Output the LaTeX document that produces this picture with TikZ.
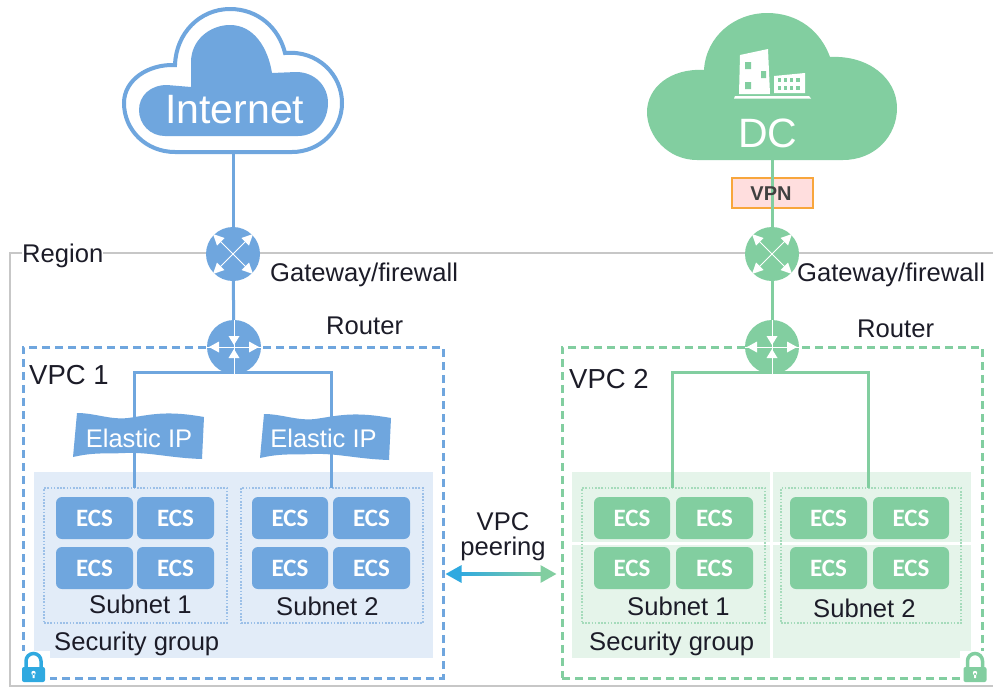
\documentclass[tikz,border=0pt]{standalone}
\usepackage{fontspec}
\setmainfont{Liberation Sans}
\newfontfamily\ecsfont{Carlito}
\usetikzlibrary{arrows.meta,shapes.geometric}
\pgfdeclarelayer{bg}\pgfdeclarelayer{conn}\pgfsetlayers{bg,conn,main}
\definecolor{cb}{HTML}{6FA6DE}
\definecolor{cg}{HTML}{82CEA0}
\definecolor{shb}{HTML}{E2ECF8}
\definecolor{shg}{HTML}{E5F4EA}
\definecolor{dotb}{HTML}{9CC0E8}
\definecolor{dotg}{HTML}{A5DBBB}
\definecolor{txt}{HTML}{1C1C28}
\definecolor{lockb}{HTML}{2FA9E0}
\definecolor{vpnline}{HTML}{F8A63C}
\tikzset{
  x=1pt,y=-1pt,
  lbl/.style={font=\fontsize{25.6}{25.6}\selectfont,text=txt,inner sep=0pt,anchor=base west},
  lblc/.style={lbl,anchor=base},
  big/.style={font=\fontsize{41}{41}\selectfont,text=white,inner sep=0pt,anchor=base west},
  eiptext/.style={font=\fontsize{25.5}{25.5}\selectfont,text=white,inner sep=0pt,anchor=base},
  vpcbox/.style={draw,line width=3pt,dash pattern=on 8pt off 5pt,inner sep=0pt},
  shadebox/.style={inner sep=0pt},
  subbox/.style={draw,line width=1.6pt,dash pattern=on 1.6pt off 1.6pt,inner sep=0pt,minimum height=135pt},
  ecsbox/.style={rounded corners=6pt,inner sep=0pt,minimum height=42pt,text=white,font=\ecsfont\bfseries\fontsize{25}{25}\selectfont},
  hub/.style={circle,minimum size=54pt,inner sep=0pt},
  conn/.style={line width=3pt},
  gwicon/.pic={
    \draw[white,line width=1pt] (-19,-19)--(19,19) (-19,19)--(19,-19);
    \fill[white] (-20,-20)--(-8.5,-16)--(-16,-8.5)--cycle (20,-20)--(8.5,-16)--(16,-8.5)--cycle
                 (-20,20)--(-8.5,16)--(-16,8.5)--cycle (20,20)--(8.5,16)--(16,8.5)--cycle;
  },
  rticon/.pic={
    \draw[white,line width=1pt] (-27,0)--(27,0) (0,-27)--(0,27);
    \fill[white] (-25,0)--(-15,-5.5)--(-15,5.5)--cycle (25,0)--(15,-5.5)--(15,5.5)--cycle
                 (0,-2)--(-5.5,-11)--(5.5,-11)--cycle (0,2)--(-5.5,11)--(5.5,11)--cycle;
  },
  flag/.pic={
    \fill[pic actions] (-62,-24) .. controls (-44,-24) and (-29,-17) .. (-11,-19)
      .. controls (11,-22) and (26,-27) .. (65,-20) -- (63,22)
      .. controls (31,21) and (11,15) .. (-14,16) .. controls (-34,17) and (-44,15) .. (-66,20) -- cycle;
  },
  lockicon/.pic={
    \draw[pic actions,fill=none,line width=3.5pt] (-7.5,2) -- (-7.5,-5) arc[start angle=180,end angle=360,radius=7.5] -- (7.5,2);
    \fill[pic actions,draw=none,rounded corners=2pt] (-11.5,1) rectangle (11.5,16);
    \fill[white] (0,7) circle[radius=2.2] (-1,7) rectangle (1,12);
  },
}
\begin{document}
\begin{tikzpicture}
\useasboundingbox (0,0) rectangle (993,686);

\begin{pgfonlayer}{bg}
  \fill[white] (0,0) rectangle (993,686);
  % region frame
  \draw[line width=2pt,color=black!22] (993,253) -- (10,253) -- (10,685.5) -- (993,685.5);
  % VPC frames
  \node[vpcbox,draw=cb,minimum width=420pt,minimum height=331pt] (vpc1) at (233,512.5) {};
  \node[vpcbox,draw=cg,minimum width=420pt,minimum height=331pt] (vpc2) at (772,512.5) {};
  % security groups
  \node[shadebox,fill=shb,minimum width=399pt,minimum height=186pt] (sg1) at (233.5,565) {};
  \node[shadebox,fill=shg,minimum width=399pt,minimum height=186pt] (sg2) at (771.5,565) {};
  \draw[white,line width=3pt] (771,472) -- (771,658) (572,543) -- (971,543);
  % subnets
  \node[subbox,draw=dotb,minimum width=183pt] (s11) at (135.5,555.5) {};
  \node[subbox,draw=dotb,minimum width=182pt] (s12) at (332,555.5) {};
  \node[subbox,draw=dotg,minimum width=183pt] (s21) at (673.5,555.5) {};
  \node[subbox,draw=dotg,minimum width=180pt] (s22) at (871,555.5) {};
  % VPN box
  \node[draw=vpnline,fill=red!13,line width=2.6pt,minimum width=81pt,minimum height=30pt,inner sep=0pt] (vpnbox) at (772.5,193) {};
\end{pgfonlayer}

% Internet cloud
\draw[cb,line width=4pt,fill=white] (175,152) .. controls (146,152) and (124,130) .. (124,103)
  .. controls (124,80) and (148,64) .. (175,65) .. controls (176,33) and (200,9) .. (230,9)
  .. controls (258,9) and (279,28) .. (285,53) .. controls (318,50) and (342,75) .. (342,103)
  .. controls (342,130) and (320,152) .. (292,152) -- cycle;
\fill[cb] (165,136) .. controls (150,136) and (139,124) .. (139,110)
  .. controls (139,96) and (150,85) .. (167,85) -- (191,87) -- (191,62)
  .. controls (191,40) and (210,25) .. (230,25)
  .. controls (254,25) and (268,48) .. (272,73)
  -- (296,72) .. controls (315,72) and (328,86) .. (328,103)
  .. controls (328,122) and (315,136) .. (298,136) -- cycle;
\node[big] (internet) at (165,123) {Internet};
\coordinate (cloudA) at (233,152);

% DC cloud
\fill[cg] (697,160) .. controls (668,160) and (647,136) .. (647,112)
  .. controls (647,88) and (670,68) .. (704,70)
  .. controls (706,36) and (735,13) .. (767,13)
  .. controls (799,13) and (821,32) .. (830,57)
  .. controls (868,55) and (897,78) .. (897,108)
  .. controls (897,136) and (875,160) .. (843,160) -- cycle;
\fill[white] (740,55) -- (768,49) -- (770,94) -- (739,94) -- cycle
  (774,76) -- (805,73) -- (805,93) -- (774,93) -- cycle
  (735,96) -- (809,96) -- (811,98.5) -- (734,98.5) -- cycle;
\fill[cg] (745,62) rectangle (751,69) (761,71) rectangle (766,78) (745,82) rectangle (751,89);
\foreach \wx in {779.5,785.7,791.7,798} \foreach \wy in {80,88}
  \fill[cg] (\wx-1.7,\wy-1.7) rectangle (\wx+1.7,\wy+1.7);
\node[big] (dc) at (738,147) {DC};
\coordinate (cloudB) at (772,160);

% hubs
\node[hub,fill=cb] (gw1) at (233,254) {}; \pic at (gw1) {gwicon};
\node[hub,fill=cb] (rt1) at (234,347) {}; \pic at (rt1) {rticon};
\node[hub,fill=cg] (gw2) at (772,254) {}; \pic at (gw2) {gwicon};
\node[hub,fill=cg] (rt2) at (772,347) {}; \pic at (rt2) {rticon};

% elastic IP
\pic[fill=cb] at (139,437) {flag};
\pic[fill=cb] at (326,438) {flag};
\node[eiptext] (eip1) at (139,447) {Elastic IP};
\node[eiptext] (eip2) at (323.5,447) {Elastic IP};

% connectors
\coordinate (bus1) at (234,372);
\coordinate (bus2) at (772,372);
\coordinate (drop1) at (134,488);
\coordinate (drop2) at (331,488);
\coordinate (drop3) at (672,488);
\coordinate (drop4) at (868,488);
\begin{pgfonlayer}{conn}
  \draw[conn,cb] (cloudA) -- (gw1);
  \draw[conn,cb] (gw1) -- (rt1);
  \draw[conn,cg] (cloudB) -- (gw2);
  \draw[conn,cg] (gw2) -- (rt2);
  \draw[conn,cb] (bus1) -- (bus1 -| drop1) -- (drop1);
  \draw[conn,cb] (bus1) -- (bus1 -| drop2) -- (drop2);
  \draw[conn,cg] (bus2) -- (bus2 -| drop3) -- (drop3);
  \draw[conn,cg] (bus2) -- (bus2 -| drop4) -- (drop4);
\end{pgfonlayer}

% ECS
\foreach \nm/\cx/\w/\col in {a/94.5/77/cb,b/175.5/77/cb,c/290/76/cb,d/371.5/77/cb,e/632/76/cg,f/714.5/77/cg,g/828.5/77/cg,h/911/76/cg}{
  \node[ecsbox,fill=\col,minimum width=\w pt] (\nm1) at (\cx,518) {ECS};
  \node[ecsbox,fill=\col,minimum width=\w pt] (\nm2) at (\cx,568) {ECS};
}

% labels
\node[lbl,fill=white,inner xsep=0pt,inner ysep=1pt] (region) at (22,262) {Region};
\node[lbl] (gwt1) at (270,281) {Gateway/firewall};
\node[lbl] (gwt2) at (797,281) {Gateway/firewall};
\node[lbl] (rtt1) at (326,334) {Router};
\node[lbl] (rtt2) at (857,337) {Router};
\node[lbl,font=\fontsize{27.5}{27.5}\selectfont] (vt1) at (29,384) {VPC 1};
\node[lbl,font=\fontsize{27.5}{27.5}\selectfont] (vt2) at (569,388) {VPC 2};
\node[lbl] (st11) at (89,613) {Subnet 1};
\node[lbl] (st12) at (276,615) {Subnet 2};
\node[lbl] (st21) at (627,615) {Subnet 1};
\node[lbl] (st22) at (813,617) {Subnet 2};
\node[lbl] (sgt1) at (54,650) {Security group};
\node[lbl] (sgt2) at (589,650) {Security group};
\node[lblc] (pe1) at (503,530) {VPC};
\node[lblc] (pe2) at (503,555) {peering};
\node[lblc,font=\bfseries\fontsize{20}{20}\selectfont,text=black!75] (vpntext) at (771,200) {VPN};

% VPC peering arrow
\coordinate (ylev) at (500,574);
\coordinate (pa) at ([xshift=1pt]vpc1.east |- ylev);
\coordinate (pb) at ([xshift=-4pt]vpc2.west |- ylev);
\draw[line width=3pt,color=cg!50!lockb,{Triangle[length=16pt,width=17pt,color=lockb]}-{Triangle[length=16pt,width=17pt,color=cg]}] (pa) -- (pb);
\shade[left color=lockb,right color=cg] ([xshift=14pt,yshift=1.5pt]pa) rectangle ([xshift=-14pt,yshift=-1.5pt]pb);

% locks
\fill[white] (20,651) rectangle (50,684);
\pic[draw=lockb,fill=lockb] at (33.5,666) {lockicon};
\fill[white] (960,651) rectangle (990,684);
\pic[draw=cg,fill=cg] at (975,666) {lockicon};
\end{tikzpicture}
\end{document}
